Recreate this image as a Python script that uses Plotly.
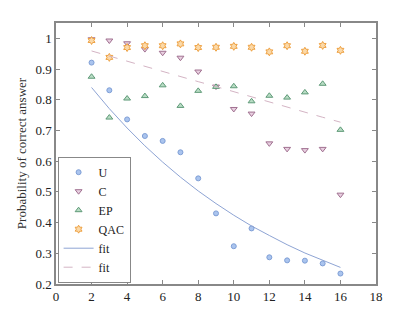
import plotly.graph_objects as go

x = [2, 3, 4, 5, 6, 7, 8, 9, 10, 11, 12, 13, 14, 15, 16]
u_vals = [0.921, 0.831, 0.736, 0.682, 0.666, 0.629, 0.544, 0.430, 0.323, 0.381, 0.287, 0.277, 0.276, 0.267, 0.234]
c_vals = [0.997, 0.993, 0.984, 0.965, 0.953, 0.937, 0.892, 0.843, 0.770, 0.755, 0.658, 0.640, 0.636, 0.640, 0.491]
ep_vals = [0.875, 0.742, 0.804, 0.812, 0.847, 0.780, 0.829, 0.842, 0.844, 0.795, 0.813, 0.807, 0.824, 0.852, 0.702]
qac_vals = [0.993, 0.938, 0.970, 0.976, 0.976, 0.982, 0.970, 0.971, 0.974, 0.971, 0.956, 0.976, 0.958, 0.977, 0.961]
fit_u = [0.840, 0.771, 0.708, 0.650, 0.597, 0.548, 0.503, 0.462, 0.424, 0.389, 0.358, 0.328, 0.301, 0.277, 0.254]
fit_c = [0.959, 0.942, 0.926, 0.909, 0.893, 0.876, 0.859, 0.843, 0.826, 0.810, 0.793, 0.776, 0.760, 0.743, 0.727]

x_ticks = [0, 2, 4, 6, 8, 10, 12, 14, 16, 18]
y_ticks = [0.2, 0.3, 0.4, 0.5, 0.6, 0.7, 0.8, 0.9, 1]
y_tick_labels = ["0.2", "0.3", "0.4", "0.5", "0.6", "0.7", "0.8", "0.9", "1"]

font = "'Times New Roman', 'Liberation Serif', Tinos, serif"

fig = go.Figure()
fig.add_trace(go.Scatter(x=x, y=u_vals, mode="markers", name="U",
                         marker=dict(symbol="circle", size=5, color="#aac4ee",
                                     line=dict(color="#7f9fd6", width=1))))
fig.add_trace(go.Scatter(x=x, y=c_vals, mode="markers", name="C",
                         marker=dict(symbol="triangle-down", size=6, color="#e8cfe0",
                                     line=dict(color="#a07090", width=1))))
fig.add_trace(go.Scatter(x=x, y=ep_vals, mode="markers", name="EP",
                         marker=dict(symbol="triangle-up", size=6, color="#b8dcc4",
                                     line=dict(color="#5f9a78", width=1))))
fig.add_trace(go.Scatter(x=x, y=qac_vals, mode="markers", name="QAC",
                         marker=dict(symbol="hexagram", size=6, color="#fbd9a8",
                                     line=dict(color="#eea040", width=1))))
fig.add_trace(go.Scatter(x=x, y=fit_u, mode="lines", name="fit",
                         line=dict(color="#8ea4d4", width=1)))
fig.add_trace(go.Scatter(x=x, y=fit_c, mode="lines", name="fit",
                         line=dict(color="#d4b4c4", width=1, dash="dash")))

axis_common = dict(showgrid=False, zeroline=False, showline=True, linecolor="#888888",
                   linewidth=1.5, mirror="ticks", ticks="inside", ticklen=4,
                   tickcolor="#888888", tickfont=dict(family=font, size=13, color="#222"))

fig.update_layout(
    width=407, height=310,
    margin=dict(l=46, r=39, t=15, b=34),
    paper_bgcolor="white", plot_bgcolor="white",
    font=dict(family=font, size=13, color="#222"),
    xaxis=dict(range=[0, 18], tickvals=x_ticks, **axis_common),
    yaxis=dict(range=[0.2, 1.05], tickvals=y_ticks, ticktext=y_tick_labels,
               title=dict(text="Probability of correct answer", standoff=6,
                          font=dict(family=font, size=13, color="#333")),
               **axis_common),
    legend=dict(x=0.005, y=0.005, xanchor="left", yanchor="bottom",
                bgcolor="white", bordercolor="#888888", borderwidth=1,
                font=dict(family=font, size=12, color="#222"),
                tracegroupgap=0, itemwidth=30),
    showlegend=True,
)

fig.write_html("out.html")
